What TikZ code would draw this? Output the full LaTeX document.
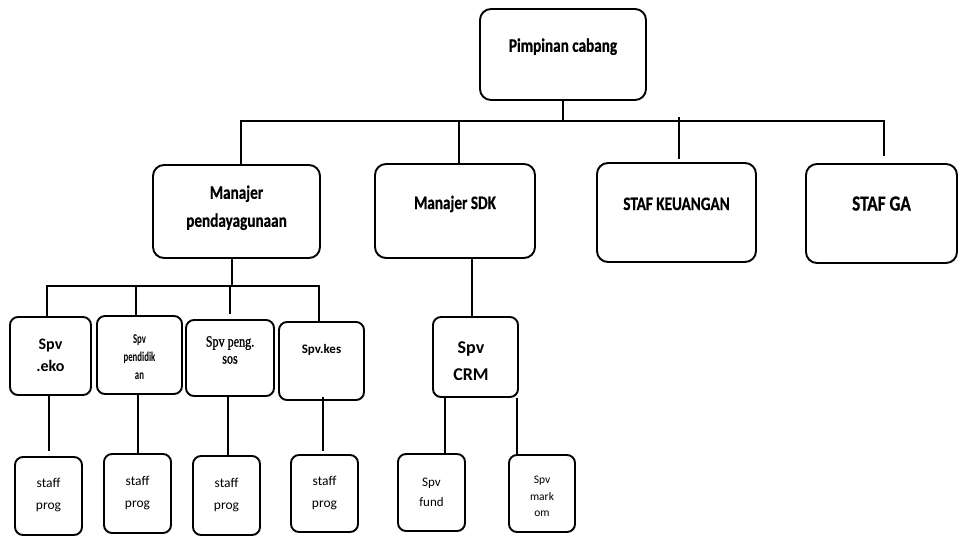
\documentclass[tikz,border=0pt]{standalone}
\usepackage{fontspec}
\setmainfont{Carlito}
\newfontfamily\fA[FakeStretch=0.8, BoldFeatures={FakeBold=0.6}]{Carlito}
\newfontfamily\fB{Carlito}
\newfontfamily\fC[FakeStretch=0.65]{Carlito}
\newfontfamily\fS[FakeStretch=0.78, FakeBold=1.2]{Liberation Serif}
\newcommand\lbl[5]{\raisebox{#3}[0pt][0pt]{#4\fontsize{#1}{#2}\selectfont\begin{tabular}{@{}c@{}}#5\end{tabular}}}
\tikzset{
  box/.style={draw=black, line width=1.9pt, rounded corners=11pt, inner sep=0pt},
  sbox/.style={box, rounded corners=8pt},
  wire/.style={draw=black, line width=1.9pt},
}
\begin{document}
\begin{tikzpicture}[x=1pt,y=-1pt]
\useasboundingbox[fill=white] (0,0) rectangle (958,536);
% level 1
\node[box, minimum width=166pt, minimum height=91pt] (pc) at (563,54.5)
  {\lbl{19}{23}{3pt}{\fA\bfseries}{Pimpinan cabang}};
% level 2
\node[box, minimum width=167pt, minimum height=93pt] (mp) at (236.5,211.5)
  {\lbl{19}{28}{0pt}{\fA\bfseries}{Manajer\\pendayagunaan}};
\node[box, minimum width=160pt, minimum height=94pt] (msdk) at (455,211)
  {\lbl{19}{23}{2.25pt}{\fA\bfseries}{Manajer SDK}};
\node[box, minimum width=159pt, minimum height=99pt] (sk) at (676.5,212.5)
  {\lbl{19}{23}{2.75pt}{\fA\bfseries}{STAF KEUANGAN}};
\node[box, minimum width=151pt, minimum height=99pt] (sga) at (881.5,213.5)
  {\lbl{21.5}{26}{3pt}{\fA\bfseries}{STAF GA}};
% level 3
\node[sbox, minimum width=81pt, minimum height=78pt] (eko) at (50.5,356)
  {\lbl{16}{22}{-4pt}{\fB\bfseries}{Spv\\.eko}};
\node[sbox, minimum width=85pt, minimum height=78pt] (pend) at (139.5,355)
  {\lbl{13.5}{18}{-6.4pt}{\fC\bfseries}{Spv\\pendidik\\an}};
\node[sbox, minimum width=88pt, minimum height=76pt] (sos) at (230,358)
  {\lbl{15.5}{17}{2.75pt}{\fS}{Spv peng.\\sos}};
\node[sbox, minimum width=85pt, minimum height=78pt] (kes) at (321.5,361)
  {\lbl{13}{16}{7.75pt}{\fB\bfseries}{Spv.kes}};
\node[sbox, minimum width=85pt, minimum height=80pt] (crm) at (475.5,357)
  {\hspace*{-9pt}\lbl{18}{27}{-9pt}{\fB\bfseries}{Spv\\CRM}};
% level 4
\node[sbox, minimum width=67pt, minimum height=78pt] (s1) at (48.5,496)
  {\lbl{13.5}{22}{-1.9pt}{\fB}{staff\\prog}};
\node[sbox, minimum width=67pt, minimum height=79pt] (s2) at (137.5,493.5)
  {\lbl{13.5}{22}{-1.9pt}{\fB}{staff\\prog}};
\node[sbox, minimum width=67pt, minimum height=79pt] (s3) at (226.5,495.5)
  {\lbl{13.5}{22}{-1.9pt}{\fB}{staff\\prog}};
\node[sbox, minimum width=67pt, minimum height=77pt] (s4) at (324.5,493.5)
  {\lbl{13.5}{22}{-1.9pt}{\fB}{staff\\prog}};
\node[sbox, minimum width=67pt, minimum height=77pt] (fund) at (431.5,492.5)
  {\lbl{13}{20}{-2.75pt}{\fB}{Spv\\fund}};
\node[sbox, minimum width=66pt, minimum height=77pt] (mk) at (542,493.5)
  {\lbl{11.5}{16.5}{-6.25pt}{\fB}{Spv\\mark\\om}};
% helper coordinates
\coordinate (bus) at (0,121);
\coordinate (busT) at (0,117);
\coordinate (sub) at (0,286);
\path ([xshift=4.5pt]mp.north) coordinate (mpT)
      ([xshift=4pt]msdk.north) coordinate (msdkT)
      ([xshift=2.5pt,yshift=3pt]sk.north) coordinate (skT)
      ([xshift=2.5pt,yshift=7pt]sga.north) coordinate (sgaT)
      ([xshift=-4.5pt]mp.south) coordinate (mpB)
      ([xshift=-3.5pt]eko.north) coordinate (ekoT)
      ([xshift=-3.5pt]pend.north) coordinate (pendT)
      ([yshift=5pt]sos.north) coordinate (sosT)
      ([xshift=-2.5pt]kes.north) coordinate (kesT)
      ([xshift=0.5pt,yshift=5pt]s1.north) coordinate (s1T)
      ([xshift=0.5pt]s2.north) coordinate (s2T)
      ([xshift=1.5pt]s3.north) coordinate (s3T)
      ([xshift=-1.5pt,yshift=3pt]s4.north) coordinate (s4T)
      ([xshift=-3.5pt]crm.north) coordinate (crmT)
      ([xshift=13.5pt]fund.north) coordinate (fundT)
      ([xshift=-25pt]mk.north) coordinate (mkT);
% level 1 -> 2
\draw[wire] (pc.south) -- (pc.south |- bus);
\draw[wire] (mpT) -- (mpT |- bus) -- (sgaT |- bus) -- (sgaT);
\draw[wire] (msdkT) -- (msdkT |- bus);
\draw[wire] (skT) -- (skT |- busT);
% level 2 -> 3
\draw[wire] (mpB) -- (mpB |- sub);
\draw[wire] (ekoT) -- (ekoT |- sub) -- (kesT |- sub) -- (kesT);
\draw[wire] (pendT) -- (pendT |- sub);
\draw[wire] (sosT) -- (sosT |- sub);
\draw[wire] (crmT) -- (crmT |- msdk.south);
% level 3 -> 4
\draw[wire] (s1T |- eko.south) -- (s1T);
\draw[wire] (s2T |- pend.south) -- (s2T);
\draw[wire] (s3T |- sos.south) -- (s3T);
\draw[wire] ([yshift=4pt]s4T |- kes.south) -- (s4T);
\draw[wire] (fundT |- crm.south) -- (fundT);
\draw[wire] (mkT |- crm.south) -- (mkT);
\end{tikzpicture}
\end{document}
